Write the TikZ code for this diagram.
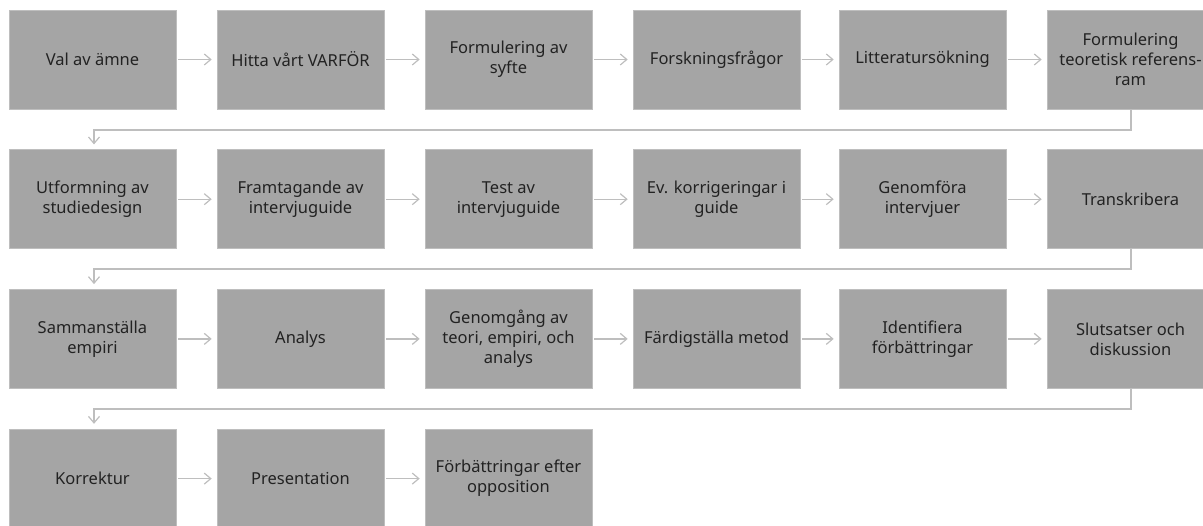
\documentclass[tikz,border=0pt]{standalone}
\usepackage{fontspec}
\setmainfont{Noto Sans}
\usetikzlibrary{arrows.meta}
\definecolor{boxfill}{RGB}{165,165,165}
\definecolor{boxedge}{RGB}{190,190,190}
\definecolor{linkcol}{RGB}{190,190,190}
\definecolor{txt}{RGB}{34,34,34}
\begin{document}
\begin{tikzpicture}[x=1pt,y=-1pt,
  stepbox/.style={rectangle,fill=boxfill,draw=boxedge,line width=0.6pt,
    minimum width=167pt,minimum height=99pt,inner sep=0pt,
    align=center,text=txt,font=\fontsize{16.5}{20}\selectfont},
  link/.style={draw=linkcol,line width=1.3pt,
    -{Straight Barb[length=6.5pt,width=11pt,line width=1.2pt]}},
  wrap/.style={draw=linkcol,line width=2pt,
    -{Straight Barb[length=6.5pt,width=11pt,line width=1.2pt]}}]
\useasboundingbox (0,0) rectangle (1203,526);
\begin{scope}
\clip (0,0) rectangle (1203,526);
% row 1
\node[stepbox] (b1)  at (92.5,59.5) {Val av ämne};
\node[stepbox] (b2)  at (300.5,59.5) {Hitta vårt VARFÖR};
\node[stepbox] (b3)  at (508.5,59.5) {Formulering av\\syfte};
\node[stepbox] (b4)  at (716.5,59.5) {Forskningsfrågor};
\node[stepbox] (b5)  at (922.5,59.5) {Litteratursökning};
\node[stepbox] (b6)  at (1130.5,59.5) {Formulering\\teoretisk referens-\\ram};
% row 2
\node[stepbox] (b7)  at (92.5,199.2) {Utformning av\\studiedesign};
\node[stepbox] (b8)  at (300.5,199.2) {Framtagande av\\intervjuguide};
\node[stepbox] (b9)  at (508.5,199.2) {Test av\\intervjuguide};
\node[stepbox] (b10) at (716.5,199.2) {Ev. korrigeringar i\\guide};
\node[stepbox] (b11) at (922.5,199.2) {Genomföra\\intervjuer};
\node[stepbox] (b12) at (1130.5,199.2) {Transkribera};
% row 3
\node[stepbox] (b13) at (92.5,338.9) {Sammanställa\\empiri};
\node[stepbox] (b14) at (300.5,338.9) {Analys};
\node[stepbox] (b15) at (508.5,338.9) {Genomgång av\\teori, empiri, och\\analys};
\node[stepbox] (b16) at (716.5,338.9) {Färdigställa metod};
\node[stepbox] (b17) at (922.5,338.9) {Identifiera\\förbättringar};
\node[stepbox] (b18) at (1130.5,338.9) {Slutsatser och\\diskussion};
% row 4
\node[stepbox] (b19) at (92.5,478.6) {Korrektur};
\node[stepbox] (b20) at (300.5,478.6) {Presentation};
\node[stepbox] (b21) at (508.5,478.6) {Förbättringar efter\\opposition};
\end{scope}
% arrows within each row
\foreach \a/\b in {1/2,2/3,3/4,4/5,5/6,7/8,8/9,9/10,10/11,11/12,
                   13/14,14/15,15/16,16/17,17/18,19/20,20/21}
  \draw[link,shorten <=2pt,shorten >=5pt] (b\a.east) -- (b\b.west);
% wrap-around connectors from the end of one row to the start of the next
\foreach \a/\b in {6/7,12/13,18/19}
  \draw[wrap,shorten >=5pt] (b\a.south) -- ++(0,20.5) -| ([xshift=1.5pt]b\b.north);
\end{tikzpicture}
\end{document}
